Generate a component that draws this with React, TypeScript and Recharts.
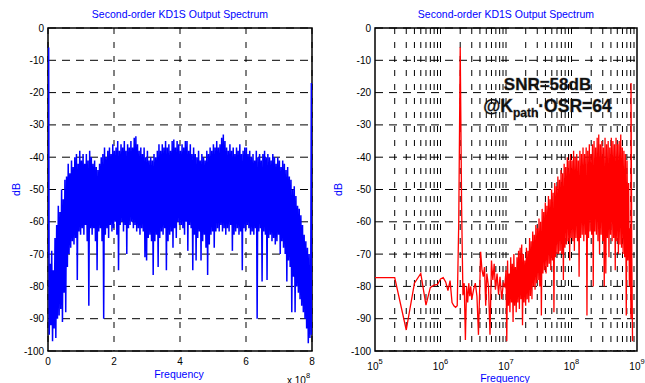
import React from 'react';
import { LineChart, Line, XAxis, YAxis, CartesianGrid, ReferenceArea } from 'recharts';

const FONT = '"Liberation Sans", Arial, Helvetica, sans-serif';
const BLUE = '#0000ff';
const RED = '#ff0000';

const TITLE = 'Second-order KD1S Output Spectrum';
const X_LABEL = 'Frequency';
const Y_LABEL = 'dB';
const SNR_TEXT = 'SNR=58dB';
const DB_TICKS = [-100, -90, -80, -70, -60, -50, -40, -30, -20, -10, 0];
const LEFT_X_TICKS = [0, 2e8, 4e8, 6e8, 8e8];
const RIGHT_X_TICKS = [1e5, 1e6, 1e7, 1e8, 1e9];
const RIGHT_GRID_FREQS = [
  2e5, 3e5, 4e5, 5e5, 6e5, 7e5, 8e5, 9e5, 1e6,
  2e6, 3e6, 4e6, 5e6, 6e6, 7e6, 8e6, 9e6, 1e7,
  2e7, 3e7, 4e7, 5e7, 6e7, 7e7, 8e7, 9e7, 1e8,
  2e8, 3e8, 4e8, 5e8, 6e8, 7e8, 8e8, 9e8,
];

// ---- left plot (linear frequency), one column per 5 MHz: upper and lower excursion ----
const LEFT_BIN = 5e6;
const leftPeaks = [
  -70, -73, -69, -75, -65, -61, -55, -57, -50, -53,
  -47, -46, -42, -45, -41, -43, -40, -39, -42, -38,
  -41, -39, -42, -39, -41, -38, -40, -42, -41, -43,
  -44, -42, -40, -39, -37, -40, -38, -37, -39, -36,
  -38, -37, -35, -38, -36, -37, -35, -38, -36, -37,
  -35, -37, -34, -33.5, -36, -38, -37, -39, -37, -40,
  -38, -41, -40, -41, -39, -40, -38, -36, -38, -36,
  -37, -35, -37, -36, -38, -35, -34.5, -37, -35, -36,
  -38, -36, -37, -35, -35, -38, -36, -39, -37, -39,
  -40, -38, -41, -39, -40, -41, -38, -39, -37, -38,
  -36, -37, -35, -37, -36, -34, -33, -35, -37, -38,
  -36, -38, -37, -39, -37, -38, -36, -39, -38, -37,
  -37, -39, -38, -40, -39, -41, -38, -40, -39, -41,
  -39, -38, -40, -39, -40, -41, -39, -40, -42, -40,
  -41, -43, -41, -42, -44, -43, -46, -47, -50, -49,
  -52, -55, -56, -58, -61, -64, -66, -68, -70, -73,
];
const leftDips = [
  -95, -92, -97, -93, -96, -90, -89, -87, -91, -82,
  -88, -74, -70, -68, -66, -67, -65, -78, -63, -64,
  -62, -64, -61, -66, -86, -62, -64, -62, -66, -75,
  -63, -62, -66, -90, -64, -62, -65, -61, -63, -62,
  -60, -64, -75, -61, -60, -63, -61, -70, -62, -61,
  -60, -62, -61, -63, -62, -64, -62, -63, -71, -72,
  -65, -64, -66, -76.5, -66, -64, -74, -65, -63, -64,
  -62, -75, -66, -64, -63, -68, -62, -65, -60, -61,
  -61, -62, -64, -60, -69, -61, -62, -75, -64, -72,
  -65, -63, -72, -66, -64, -68, -76.5, -67, -64, -63,
  -68, -63, -62, -63, -61, -63, -62, -64, -62, -63,
  -61, -69, -64, -63, -62, -64, -63, -75, -62, -63,
  -61, -62, -64, -63, -64, -62, -90, -63, -62, -78.5,
  -63, -64, -78, -65, -64, -66, -65, -67, -66, -64,
  -70, -66, -68, -70, -78.5, -72, -74, -88, -77, -88,
  -80, -82, -84, -86, -88, -90, -93, -97.6, -96, -95,
];
const leftToneFreqs = [2e6, 7.98e8];
const leftToneDb = [-6, -17];

// ---- right plot (log frequency) ----
const rightLowFreqs = [
  1e5, 2e5, 3e5, 4e5, 5e5, 6e5, 7e5, 8e5, 9e5, 1.0e6,
  1.1e6, 1.2e6, 1.3e6, 1.4e6, 1.5e6, 1.6e6, 1.7e6, 1.8e6, 1.9e6, 2.0e6,
  2.1e6, 2.2e6, 2.3e6, 2.4e6, 2.5e6, 2.6e6, 2.7e6, 2.8e6, 2.9e6, 3.0e6,
  3.2e6, 3.4e6, 3.6e6, 3.8e6, 4.0e6, 4.1e6, 4.3e6, 4.5e6, 4.7e6, 4.9e6,
  5.1e6, 5.4e6, 5.7e6, 6.0e6, 6.3e6, 6.6e6, 6.9e6, 7.3e6, 7.7e6, 8.1e6,
  8.6e6, 9.1e6, 9.6e6,
];
const rightLowDb = [
  -77.3, -77.3, -93.5, -79, -76, -85.8, -80.3, -79.6, -79.4, -77.7,
  -77.3, -78.6, -81.3, -78.2, -85, -86, -86.5, -86, -60, -6,
  -55, -82.7, -79, -96.6, -80, -85, -79, -83, -80, -84,
  -81, -79, -83, -95, -78, -69.3, -75, -77, -74, -86,
  -76, -80, -95, -72, -78, -73, -81, -76, -82.6, -77,
  -84, -79, -80,
];
// dense region from 10 MHz upward, one column per 0.024 decade
const RIGHT_DENSE_START_LOG = 7;
const RIGHT_DENSE_STEP_LOG = 0.024;
const rightPeaks = [
  -75, -72, -76, -71, -73, -70, -74, -71, -69, -68,
  -67, -70, -72, -68, -69, -65, -66, -63, -64, -61,
  -62, -59, -60, -56, -57, -54, -55, -52, -53, -50,
  -51, -48, -49, -46, -47, -44, -45, -42, -43, -40,
  -41, -39, -41, -38, -40, -39, -41, -38, -39, -37,
  -39, -37, -38, -36, -39, -36, -35, -37, -34, -33,
  -36, -35, -37, -34, -36, -35, -37, -34, -35, -36,
  -34, -36, -35, -33, -37, -38, -39, -41, -48, -62,
  -70,
];
const rightDips = [
  -97, -86, -88, -85, -91, -86, -88, -85, -87, -84,
  -92, -85, -86, -84, -85, -83, -84, -80, -81, -79,
  -78, -80, -89, -76, -75, -76, -74, -73, -75, -72,
  -88, -71, -70, -70, -69, -70, -78, -68, -67, -66,
  -72, -65, -66, -69, -65, -66, -77, -65, -64, -66,
  -64, -89, -65, -63, -64, -80, -63, -64, -66, -70,
  -64, -66, -80, -76, -65, -71, -64, -66, -65, -75,
  -66, -70, -67, -68, -70, -71, -89, -72, -80, -90,
  -97,
];
const rightToneFreqs = [8.1e8];
const rightToneDb = [-17];

type Pt = { f: number; db: number };

const leftData: Pt[] = [];
leftPeaks.forEach((p, i) => {
  leftData.push({ f: i * LEFT_BIN + LEFT_BIN * 0.25, db: p });
  leftData.push({ f: i * LEFT_BIN + LEFT_BIN * 0.75, db: leftDips[i] });
});
leftToneFreqs.forEach((f, i) => leftData.push({ f, db: leftToneDb[i] }));
leftData.sort((a, b) => a.f - b.f);

const rightData: Pt[] = [];
rightLowFreqs.forEach((f, i) => rightData.push({ f, db: rightLowDb[i] }));
rightPeaks.forEach((p, i) => {
  const lg = RIGHT_DENSE_START_LOG + i * RIGHT_DENSE_STEP_LOG;
  rightData.push({ f: Math.pow(10, lg), db: p });
  rightData.push({ f: Math.pow(10, lg + RIGHT_DENSE_STEP_LOG / 2), db: rightDips[i] });
});
rightToneFreqs.forEach((f, i) => rightData.push({ f, db: rightToneDb[i] }));
rightData.sort((a, b) => a.f - b.f);

const DbTick = (props: any) => {
  const { x, y, payload } = props;
  return (
    <text x={x} y={y + 3.5} textAnchor="end" fontSize={10} fontFamily={FONT} fill="#000">
      {payload.value}
    </text>
  );
};

const LinTick = (props: any) => {
  const { x, y, payload } = props;
  return (
    <text x={x} y={y + 14} textAnchor="middle" fontSize={10} fontFamily={FONT} fill="#000">
      {payload.value / 1e8}
    </text>
  );
};

const LogTick = (props: any) => {
  const { x, y, payload } = props;
  const exp = Math.round(Math.log10(payload.value));
  return (
    <text x={x} y={y + 19} textAnchor="middle" fontSize={10} fontFamily={FONT} fill="#000">
      10
      <tspan dy={-6} fontSize={7.5}>{exp}</tspan>
    </text>
  );
};

export default function App() {
  return (
    <div
      style={{
        position: 'absolute',
        left: 0,
        top: 0,
        width: 645,
        height: 383,
        background: '#fff',
        overflow: 'hidden',
        fontFamily: FONT,
      }}
    >
      <div style={{ position: 'absolute', left: 0, top: 0 }}>
        <LineChart width={330} height={383} data={leftData} margin={{ top: 28, right: 18, bottom: 0, left: 0 }}>
          <CartesianGrid vertical={false} stroke="#000" strokeDasharray="8 6" />
          <CartesianGrid horizontal={false} stroke="#000" strokeDasharray="6 8" />
          <XAxis
            type="number"
            dataKey="f"
            domain={[0, 8e8]}
            ticks={LEFT_X_TICKS}
            interval={0}
            height={32}
            tickSize={0}
            tickMargin={0}
            tickLine={false}
            axisLine={false}
            tick={<LinTick />}
            allowDataOverflow
          />
          <YAxis
            type="number"
            domain={[-100, 0]}
            ticks={DB_TICKS}
            interval={0}
            width={48}
            tickSize={4}
            tickMargin={0}
            tickLine={false}
            axisLine={false}
            tick={<DbTick />}
            allowDataOverflow
          />
          <Line type="linear" dataKey="db" stroke={BLUE} strokeWidth={1.5} dot={false} isAnimationActive={false} />
          <ReferenceArea x1={0} x2={8e8} y1={-100} y2={0} fill="none" stroke="#000" strokeWidth={1.5} />
          <text x={180} y={18} textAnchor="middle" fontSize={10.5} fontFamily={FONT} fill={BLUE}>{TITLE}</text>
          <text x={179} y={378} textAnchor="middle" fontSize={10.5} fontFamily={FONT} fill={BLUE}>{X_LABEL}</text>
          <text x={20} y={189.5} textAnchor="middle" fontSize={10.5} fontFamily={FONT} fill={BLUE} transform="rotate(-90 20 189.5)">{Y_LABEL}</text>
          <text x={287} y={384} fontSize={10} fontFamily={FONT} fill="#000">
            x 10
            <tspan dy={-6} fontSize={7.5}>8</tspan>
          </text>
        </LineChart>
      </div>
      <div style={{ position: 'absolute', left: 320, top: 0 }}>
        <LineChart width={325} height={383} data={rightData} margin={{ top: 28, right: 8, bottom: 0, left: 0 }}>
          <CartesianGrid vertical={false} stroke="#000" strokeDasharray="8 6" />
          <CartesianGrid horizontal={false} verticalValues={RIGHT_GRID_FREQS} stroke="#000" strokeDasharray="6 8" />
          <XAxis
            type="number"
            dataKey="f"
            scale="log"
            domain={[1e5, 1e9]}
            ticks={RIGHT_X_TICKS}
            interval={0}
            height={32}
            tickSize={0}
            tickMargin={0}
            tickLine={false}
            axisLine={false}
            tick={<LogTick />}
            allowDataOverflow
          />
          <YAxis
            type="number"
            domain={[-100, 0]}
            ticks={DB_TICKS}
            interval={0}
            width={55}
            tickSize={4}
            tickMargin={0}
            tickLine={false}
            axisLine={false}
            tick={<DbTick />}
            allowDataOverflow
          />
          <Line type="linear" dataKey="db" stroke={RED} strokeWidth={1.3} dot={false} isAnimationActive={false} />
          <ReferenceArea x1={1e5} x2={1e9} y1={-100} y2={0} fill="none" stroke="#000" strokeWidth={1.5} />
          <text x={186} y={18} textAnchor="middle" fontSize={10.5} fontFamily={FONT} fill={BLUE}>{TITLE}</text>
          <text x={185} y={382} textAnchor="middle" fontSize={10.5} fontFamily={FONT} fill={BLUE}>{X_LABEL}</text>
          <text x={22} y={189.5} textAnchor="middle" fontSize={10.5} fontFamily={FONT} fill={BLUE} transform="rotate(-90 22 189.5)">{Y_LABEL}</text>
          <text x={227.5} y={90} textAnchor="middle" fontSize={17} fontWeight="bold" fontFamily={FONT} fill="#111" stroke="rgba(0,0,0,0.3)" strokeWidth={1} paintOrder="stroke">{SNR_TEXT}</text>
          <text x={227.5} y={112} textAnchor="middle" fontSize={17.5} fontWeight="bold" fontFamily={FONT} fill="#111" stroke="rgba(0,0,0,0.3)" strokeWidth={1} paintOrder="stroke">
            @K
            <tspan dy={5} fontSize={12}>path</tspan>
            <tspan dy={-5}>·OSR=64</tspan>
          </text>
        </LineChart>
      </div>
    </div>
  );
}
